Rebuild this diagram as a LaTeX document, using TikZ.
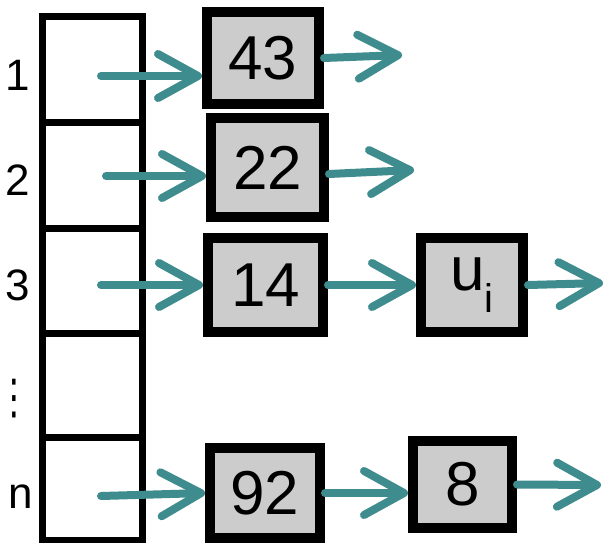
\documentclass[tikz,border=0pt]{standalone}
\usepackage{fontspec}
\setmainfont{Liberation Sans}
\newfontfamily\symfont{DejaVu Sans}
\usetikzlibrary{arrows.meta}
\definecolor{arrowteal}{RGB}{63,140,142}
\definecolor{boxgray}{RGB}{204,204,204}
\begin{document}
\begin{tikzpicture}[x=1pt,y=-1pt,
  cell/.style={draw=black, line width=7pt, minimum width=99.5pt, inner sep=0pt},
  item/.style={draw=black, fill=boxgray, line width=10pt, inner sep=0pt,
    font=\fontsize{62}{70}\selectfont},
  lbl/.style={inner sep=0pt, font=\fontsize{44}{50}\selectfont},
  arr/.style={draw=arrowteal, line width=8pt, line cap=round,
    -{Straight Barb[length=40pt,width=44pt,line cap=round,round]}}
]
\useasboundingbox (0,0) rectangle (610,543);
% array cells
\node[cell, minimum height=105pt] (c1) at (92.25,69.5) {};
\node[cell, minimum height=106pt] (c2) at (92.25,175) {};
\node[cell, minimum height=105pt] (c3) at (92.25,280.5) {};
\node[cell, minimum height=104pt] (c4) at (92.25,385) {};
\node[cell, minimum height=103pt] (c5) at (92.25,488.5) {};
% labels
\node[lbl] (l1) at (18,75) {1};
\node[lbl] (l2) at (18,180) {2};
\node[lbl] (l3) at (18,285) {3};
\node[inner sep=0pt, font=\symfont\fontsize{48}{54}\selectfont] (l4) at (14,399) {\scalebox{0.7}[1]{⋮}};
\node[lbl] (l5) at (21,497) {n};
% list items
\node[item, minimum width=112pt, minimum height=92pt] (b43) at (263,58) {43};
\node[item, minimum width=113pt, minimum height=99pt] (b22) at (267.5,167.5) {22};
\node[item, minimum width=115pt, minimum height=94pt] (b14) at (265.5,285) {14};
\node[item, minimum width=102pt, minimum height=94pt] (bu) at (472,285) {u\raisebox{-0.35em}{\fontsize{40}{44}\selectfont i}};
\node[item, minimum width=110pt, minimum height=90pt] (b92) at (265,493) {92};
\node[item, minimum width=99pt, minimum height=87pt] (b8) at (462.5,484.5) {8};
% coordinates
\coordinate (s1) at (101,76);
\coordinate (s2) at (106,176);
\coordinate (s3) at (101,285);
\coordinate (s5) at (101,496);
\coordinate (e1) at (402,55);
\coordinate (e2) at (414,170);
\coordinate (eu) at (603,283);
\coordinate (e8) at (601,485);
\coordinate (b22o) at (329,174);
% connectors
\draw[arr] (s1) -- (s1 -| b43.west);
\draw[arr] (b43.east) -- (e1);
\draw[arr] (s2) -- (s2 -| b22.west);
\draw[arr] (b22o) -- (e2);
\draw[arr] (s3) -- (s3 -| b14.west);
\draw[arr] (b14.east) -- (bu.west);
\draw[arr] (bu.east) -- (eu);
\draw[arr] (s5) -- (b92.west);
\draw[arr] (b92.east) -- (b92.east -| b8.west);
\draw[arr] (b8.east) -- (e8);
\end{tikzpicture}
\end{document}
